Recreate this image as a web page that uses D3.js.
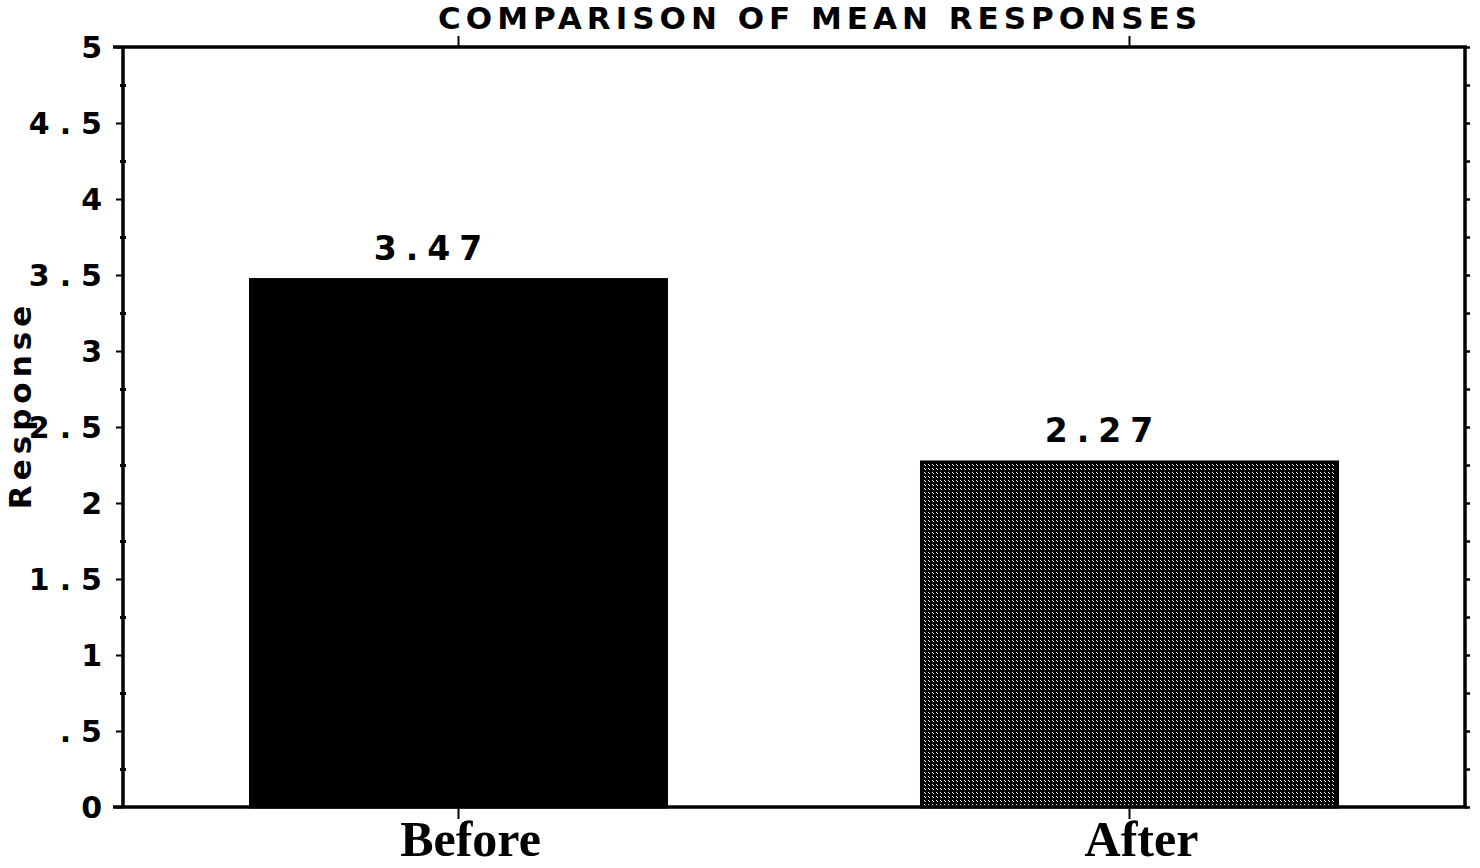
<!DOCTYPE html>
<html><head><meta charset="utf-8">
<script src="https://cdn.jsdelivr.net/npm/d3@7"></script>
<style>
html,body{margin:0;padding:0;background:#fff;}
svg text{fill:#000;}
</style></head>
<body>
<svg id="chart" width="1480" height="868"></svg>
<script>
const categories = ["Before", "After"];
const values = [3.47, 2.27];
const valueLabels = ["3.47", "2.27"];
const yTicks = [0, 0.5, 1, 1.5, 2, 2.5, 3, 3.5, 4, 4.5, 5];
const yTickLabels = ["0", ".5", "1", "1.5", "2", "2.5", "3", "3.5", "4", "4.5", "5"];
const yMinorTicks = [0.25, 0.75, 1.25, 1.75, 2.25, 2.75, 3.25, 3.75, 4.25, 4.75];
const title = "COMPARISON OF MEAN RESPONSES";
const yTitle = "Response";

const svg = d3.select("#chart");
const L = 123, R = 1465, T = 47, B = 807;
const SANS = "'DejaVu Sans', 'Liberation Sans', Arial, sans-serif";

const x = d3.scaleBand().domain(categories).range([L, R]).paddingInner(0.38).paddingOuter(0.19);
const y = d3.scaleLinear().domain([0, 5]).range([B, T]);

const defs = svg.append("defs");
const pat = defs.append("pattern").attr("id", "hatch").attr("patternUnits", "userSpaceOnUse")
  .attr("width", 4).attr("height", 4);
pat.append("rect").attr("width", 4).attr("height", 4).attr("fill", "#000");
pat.append("rect").attr("x", 0).attr("y", 0).attr("width", 1).attr("height", 1).attr("fill", "#fff");
pat.append("rect").attr("x", 1).attr("y", 1).attr("width", 1).attr("height", 1).attr("fill", "#fff");

const fills = ["#000", "url(#hatch)"];

// bars
svg.append("g").selectAll("rect").data(categories).join("rect")
  .attr("x", d => x(d))
  .attr("y", (d, i) => y(values[i]))
  .attr("width", x.bandwidth())
  .attr("height", (d, i) => y(0) - y(values[i]))
  .attr("fill", (d, i) => fills[i])
  .attr("stroke", "#000").attr("stroke-width", 3);

// value labels
svg.append("g").selectAll("text").data(categories).join("text")
  .attr("x", d => x(d) + x.bandwidth() / 2 - 26)
  .attr("y", (d, i) => y(values[i]) - 20)
  .attr("text-anchor", "middle")
  .style("font-family", SANS)
  .style("font-weight", "bold").style("font-size", "33px").style("letter-spacing", "9px")
  .text((d, i) => valueLabels[i]);

// left axis
const yAxis = d3.axisLeft(y).tickValues(yTicks).tickSize(7).tickFormat((d, i) => yTickLabels[i]);
const gl = svg.append("g").attr("transform", `translate(${L},0)`).call(yAxis);
gl.select(".domain").attr("stroke", "#000").attr("stroke-width", 3.5).attr("d", `M0,${B}V${T - 1}`);
gl.selectAll(".tick line").attr("stroke", "#000").attr("stroke-width", 2);
gl.selectAll(".tick text")
  .attr("x", -21).attr("dy", "0.36em")
  .style("font-family", SANS)
  .style("font-weight", "bold").style("font-size", "30px").style("letter-spacing", "10px")
  .attr("text-anchor", "end")
  .attr("dx", "10px");
const glm = svg.append("g").attr("transform", `translate(${L},0)`)
  .call(d3.axisLeft(y).tickValues(yMinorTicks).tickSize(3).tickFormat(""));
glm.select(".domain").remove();
glm.selectAll(".tick line").attr("stroke", "#000").attr("stroke-width", 3).attr("x2", 3).attr("x1", -3);

// right axis
const gr = svg.append("g").attr("transform", `translate(${R},0)`)
  .call(d3.axisRight(y).tickValues(yTicks.concat(yMinorTicks)).tickSize(5).tickFormat(""));
gr.select(".domain").attr("stroke", "#000").attr("stroke-width", 3.5).attr("d", `M0,${B}V${T - 1}`);
gr.selectAll(".tick line").attr("stroke", "#000").attr("stroke-width", 2.5);

// bottom axis
const gb = svg.append("g").attr("transform", `translate(0,${B})`)
  .call(d3.axisBottom(x).tickSize(12).tickFormat(""));
gb.select(".domain").attr("stroke", "#000").attr("stroke-width", 3.5).attr("d", `M${L - 10},0H${R + 2}`);
gb.selectAll(".tick line").attr("stroke", "#000").attr("stroke-width", 2);

// top axis
const gt = svg.append("g").attr("transform", `translate(0,${T})`)
  .call(d3.axisTop(x).tickSize(11).tickFormat(""));
gt.select(".domain").attr("stroke", "#000").attr("stroke-width", 3.5).attr("d", `M${L - 10},0H${R + 2}`);
gt.selectAll(".tick line").attr("stroke", "#000").attr("stroke-width", 2);

// category labels
svg.append("g").selectAll("text").data(categories).join("text")
  .attr("x", d => x(d) + x.bandwidth() / 2 + 12)
  .attr("y", 856)
  .attr("text-anchor", "middle")
  .style("font-family", "'Liberation Serif', 'Times New Roman', serif")
  .style("font-weight", "bold").style("font-size", "50px")
  .text(d => d);

// title
svg.append("text").attr("x", 820).attr("y", 29).attr("text-anchor", "middle")
  .style("font-family", SANS)
  .style("font-weight", "bold").style("font-size", "31px").style("letter-spacing", "5px")
  .text(title);

// y title
svg.append("text").attr("transform", "translate(31,405) rotate(-90)").attr("text-anchor", "middle")
  .style("font-family", SANS)
  .style("font-weight", "bold").style("font-size", "31px").style("letter-spacing", "5px")
  .text(yTitle);
</script>
</body></html>
